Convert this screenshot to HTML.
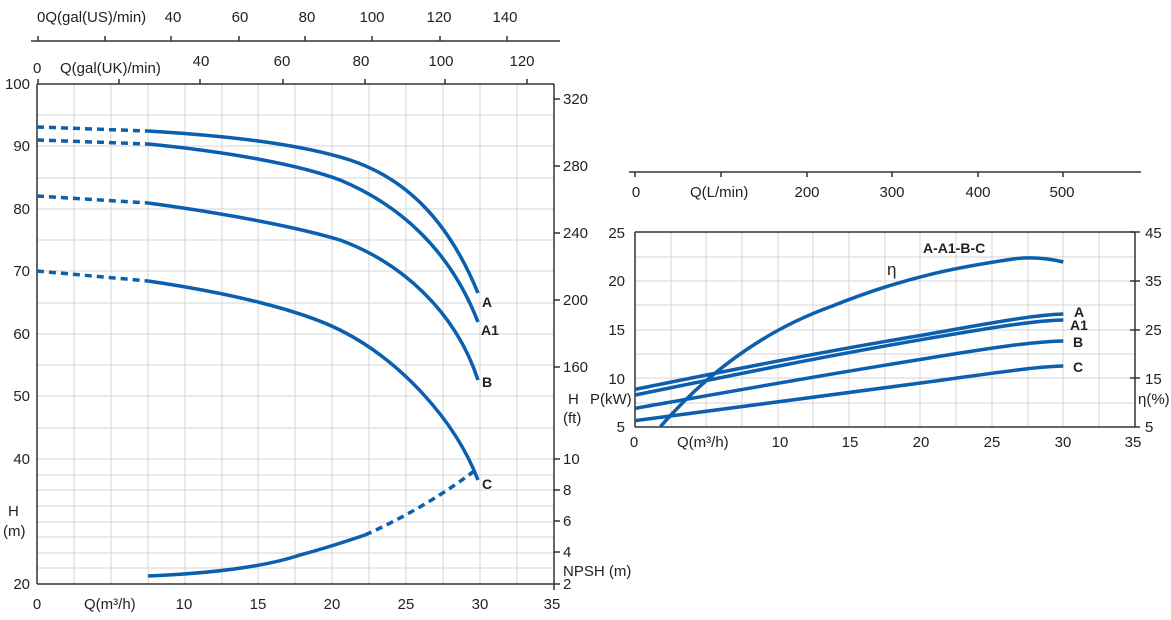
<!DOCTYPE html>
<html><head><meta charset="utf-8"><style>
body{margin:0;background:#fff}
svg{display:block;font-family:"Liberation Sans",sans-serif;font-size:15px;fill:#222}
.g{stroke:#d4d4d4;stroke-width:1}
.ax{stroke:#333;stroke-width:1.5;fill:none}
.c{stroke:#0a5fae;stroke-width:3.5;fill:none;stroke-linecap:butt}
.d{stroke:#0a5fae;stroke-width:3.5;fill:none;stroke-dasharray:7,5}
.b{font-weight:bold;font-size:14px}
</style></head><body>
<svg width="1171" height="620" viewBox="0 0 1171 620">
<!-- LEFT grid -->
<g class="g">
<line x1="74" y1="84" x2="74" y2="584"/><line x1="111" y1="84" x2="111" y2="584"/><line x1="148" y1="84" x2="148" y2="584"/><line x1="185" y1="84" x2="185" y2="584"/><line x1="222" y1="84" x2="222" y2="584"/><line x1="258" y1="84" x2="258" y2="584"/><line x1="295" y1="84" x2="295" y2="584"/><line x1="332" y1="84" x2="332" y2="584"/><line x1="369" y1="84" x2="369" y2="584"/><line x1="406" y1="84" x2="406" y2="584"/><line x1="443" y1="84" x2="443" y2="584"/><line x1="480" y1="84" x2="480" y2="584"/><line x1="517" y1="84" x2="517" y2="584"/>
<line x1="37" y1="115" x2="554" y2="115"/><line x1="37" y1="146" x2="554" y2="146"/><line x1="37" y1="178" x2="554" y2="178"/><line x1="37" y1="209" x2="554" y2="209"/><line x1="37" y1="240" x2="554" y2="240"/><line x1="37" y1="271" x2="554" y2="271"/><line x1="37" y1="303" x2="554" y2="303"/><line x1="37" y1="334" x2="554" y2="334"/><line x1="37" y1="365" x2="554" y2="365"/><line x1="37" y1="396" x2="554" y2="396"/><line x1="37" y1="428" x2="554" y2="428"/><line x1="37" y1="459" x2="554" y2="459"/><line x1="37" y1="475" x2="554" y2="475"/><line x1="37" y1="490" x2="554" y2="490"/><line x1="37" y1="506" x2="554" y2="506"/><line x1="37" y1="522" x2="554" y2="522"/><line x1="37" y1="537" x2="554" y2="537"/><line x1="37" y1="553" x2="554" y2="553"/><line x1="37" y1="568" x2="554" y2="568"/>
</g>
<g class="ax">
<line x1="37" y1="84" x2="37" y2="584"/><line x1="554" y1="84" x2="554" y2="590"/><line x1="37" y1="584" x2="554" y2="584"/><line x1="37" y1="84" x2="554" y2="84"/>
<line x1="31" y1="41" x2="560" y2="41"/>
<line x1="38" y1="36" x2="38" y2="41"/><line x1="105" y1="36" x2="105" y2="41"/><line x1="171" y1="36" x2="171" y2="41"/><line x1="239" y1="36" x2="239" y2="41"/><line x1="305" y1="36" x2="305" y2="41"/><line x1="372" y1="36" x2="372" y2="41"/><line x1="440" y1="36" x2="440" y2="41"/><line x1="507" y1="36" x2="507" y2="41"/>
<line x1="38" y1="79" x2="38" y2="84"/><line x1="119" y1="79" x2="119" y2="84"/><line x1="200" y1="79" x2="200" y2="84"/><line x1="283" y1="79" x2="283" y2="84"/><line x1="365" y1="79" x2="365" y2="84"/><line x1="445" y1="79" x2="445" y2="84"/><line x1="527" y1="79" x2="527" y2="84"/>
<line x1="554" y1="99" x2="560" y2="99"/><line x1="554" y1="166" x2="560" y2="166"/><line x1="554" y1="233" x2="560" y2="233"/><line x1="554" y1="300" x2="560" y2="300"/><line x1="554" y1="367" x2="560" y2="367"/>
<line x1="554" y1="459" x2="560" y2="459"/><line x1="554" y1="490" x2="560" y2="490"/><line x1="554" y1="521" x2="560" y2="521"/><line x1="554" y1="552" x2="560" y2="552"/><line x1="554" y1="584" x2="560" y2="584"/>
</g>
<text x="37" y="22">0Q(gal(US)/min)</text>
<g text-anchor="middle"><text x="173" y="22">40</text><text x="240" y="22">60</text><text x="307" y="22">80</text><text x="372" y="22">100</text><text x="439" y="22">120</text><text x="505" y="22">140</text>
<text x="201" y="66">40</text><text x="282" y="66">60</text><text x="361" y="66">80</text><text x="441" y="66">100</text><text x="522" y="66">120</text></g>
<text x="33" y="73">0</text><text x="60" y="73">Q(gal(UK)/min)</text>
<g text-anchor="end"><text x="30" y="89">100</text><text x="30" y="151">90</text><text x="30" y="214">80</text><text x="30" y="276">70</text><text x="30" y="339">60</text><text x="30" y="401">50</text><text x="30" y="464">40</text><text x="30" y="589">20</text></g>
<text x="8" y="516">H</text><text x="3" y="536">(m)</text>
<g><text x="563" y="104">320</text><text x="563" y="171">280</text><text x="563" y="238">240</text><text x="563" y="305">200</text><text x="563" y="372">160</text>
<text x="568" y="404">H</text><text x="563" y="423">(ft)</text>
<text x="563" y="464">10</text><text x="563" y="495">8</text><text x="563" y="526">6</text><text x="563" y="557">4</text><text x="563" y="589">2</text><text x="563" y="576">NPSH (m)</text></g>
<g text-anchor="middle"><text x="37" y="609">0</text><text x="184" y="609">10</text><text x="258" y="609">15</text><text x="332" y="609">20</text><text x="406" y="609">25</text><text x="480" y="609">30</text><text x="552" y="609">35</text></g>
<text x="84" y="609">Q(m³/h)</text>
<!-- left curves -->
<path class="d" d="M37,127 L148,131"/><path class="c" d="M148,131 C230,136 300,144 350,160 C410,180 450,225 478,293"/>
<path class="d" d="M37,140 L148,144"/><path class="c" d="M148,144 C230,152 300,165 340,180 C400,205 450,250 478,322"/>
<path class="d" d="M37,196 L148,203"/><path class="c" d="M148,203 C230,214 300,228 340,240 C400,262 455,310 478,380"/>
<path class="d" d="M37,271 L148,281"/><path class="c" d="M148,281 C230,293 300,310 340,330 C400,360 455,420 478,480"/>
<path class="c" d="M148,576 C220,573 270,565 300,555 C330,547 350,540 365,535"/><path class="d" d="M365,535 C410,515 450,490 478,468"/>
<g class="b"><text x="482" y="307">A</text><text x="481" y="335">A1</text><text x="482" y="387">B</text><text x="482" y="489">C</text></g>

<!-- RIGHT -->
<g class="g">
<line x1="671" y1="232" x2="671" y2="427"/><line x1="706" y1="232" x2="706" y2="427"/><line x1="742" y1="232" x2="742" y2="427"/><line x1="778" y1="232" x2="778" y2="427"/><line x1="813" y1="232" x2="813" y2="427"/><line x1="849" y1="232" x2="849" y2="427"/><line x1="885" y1="232" x2="885" y2="427"/><line x1="920" y1="232" x2="920" y2="427"/><line x1="956" y1="232" x2="956" y2="427"/><line x1="992" y1="232" x2="992" y2="427"/><line x1="1028" y1="232" x2="1028" y2="427"/><line x1="1063" y1="232" x2="1063" y2="427"/><line x1="1099" y1="232" x2="1099" y2="427"/>
<line x1="635" y1="257" x2="1135" y2="257"/><line x1="635" y1="281" x2="1135" y2="281"/><line x1="635" y1="305" x2="1135" y2="305"/><line x1="635" y1="330" x2="1135" y2="330"/><line x1="635" y1="354" x2="1135" y2="354"/><line x1="635" y1="378" x2="1135" y2="378"/><line x1="635" y1="403" x2="1135" y2="403"/>
</g>
<g class="ax">
<line x1="635" y1="232" x2="635" y2="427"/><line x1="1135" y1="232" x2="1135" y2="427"/><line x1="635" y1="232" x2="1135" y2="232"/><line x1="635" y1="427" x2="1140" y2="427"/>
<line x1="629" y1="172" x2="1141" y2="172"/>
<line x1="635" y1="172" x2="635" y2="177"/><line x1="721" y1="172" x2="721" y2="177"/><line x1="807" y1="172" x2="807" y2="177"/><line x1="892" y1="172" x2="892" y2="177"/><line x1="978" y1="172" x2="978" y2="177"/><line x1="1063" y1="172" x2="1063" y2="177"/>
<line x1="1130" y1="232" x2="1140" y2="232"/><line x1="1130" y1="281" x2="1140" y2="281"/><line x1="1130" y1="330" x2="1140" y2="330"/><line x1="1130" y1="378" x2="1140" y2="378"/>
</g>
<g text-anchor="middle"><text x="636" y="197">0</text><text x="807" y="197">200</text><text x="892" y="197">300</text><text x="978" y="197">400</text><text x="1062" y="197">500</text>
<text x="634" y="447">0</text><text x="780" y="447">10</text><text x="850" y="447">15</text><text x="921" y="447">20</text><text x="992" y="447">25</text><text x="1063" y="447">30</text><text x="1133" y="447">35</text></g>
<text x="690" y="197">Q(L/min)</text>
<text x="677" y="447">Q(m³/h)</text>
<g text-anchor="end"><text x="625" y="238">25</text><text x="625" y="286">20</text><text x="625" y="335">15</text><text x="625" y="384">10</text><text x="625" y="432">5</text></g>
<text x="590" y="404">P(kW)</text>
<g><text x="1145" y="238">45</text><text x="1145" y="286">35</text><text x="1145" y="335">25</text><text x="1145" y="384">15</text><text x="1145" y="432">5</text><text x="1138" y="404">η(%)</text></g>
<g transform="translate(590,160) scale(0.37037,0.33333)">
<path class="c" vector-effect="non-scaling-stroke" d="M122,688 C300,648 600,580 900,525 C1100,485 1200,465 1278,462"/>
<path class="c" vector-effect="non-scaling-stroke" d="M122,705 C300,665 600,595 900,538 C1100,500 1200,482 1278,480"/>
<path class="c" vector-effect="non-scaling-stroke" d="M122,745 C300,710 600,650 900,597 C1100,560 1200,545 1278,543"/>
<path class="c" vector-effect="non-scaling-stroke" d="M122,782 C300,755 600,710 900,668 C1100,638 1200,620 1278,618"/>
<path class="c" vector-effect="non-scaling-stroke" d="M190,800 C300,660 450,520 650,440 C850,350 1000,320 1150,296 C1200,290 1240,296 1278,306"/>
</g>
<g class="b"><text x="1074" y="317">A</text><text x="1070" y="330">A1</text><text x="1073" y="347">B</text><text x="1073" y="372">C</text><text x="923" y="253">A-A1-B-C</text></g>
<text x="887" y="275" style="font-size:17px">η</text>
</svg>
</body></html>
